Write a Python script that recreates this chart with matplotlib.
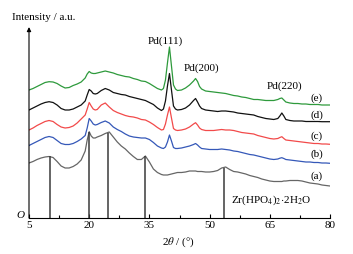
import matplotlib
matplotlib.use('Agg')
import matplotlib.pyplot as plt

plt.rcParams['font.family'] = ['Liberation Serif', 'DejaVu Serif']
plt.rcParams['mathtext.fontset'] = 'stix'

# 2theta grid (deg)
two_theta = [5, 6, 7, 8, 9, 10, 11, 12, 13, 14, 15, 16, 17, 18, 19,
             19.5, 20, 20.5, 21, 21.5, 22,
             23, 24, 25, 26, 27, 28, 29, 30, 31, 32, 33, 34, 35, 36, 37, 38,
             38.5, 39, 39.5, 40, 40.5, 41, 41.5, 42,
             43, 44, 45, 46,
             46.5, 47, 47.5,
             48, 49, 50, 51, 52, 53, 54, 55, 56, 57, 58, 59, 60, 61, 62, 63, 64, 65, 66, 67,
             67.5, 68, 68.5,
             69, 70, 71, 72, 73, 74, 75, 76, 77, 78, 79, 80]

# intensities (offset, a.u.)
curve_a = [55, 56.5, 58.5, 60, 61, 61.5, 60.5, 56.5, 52, 50, 50, 51.5, 54, 58, 67,
           78, 86.3, 82, 80, 80, 81,
           82.5, 84.5, 86, 81, 76, 72, 69, 65, 61.5, 58.5, 58.5, 62, 56, 49, 45.5, 43.5,
           43, 43, 43, 43.5, 44, 44.5, 45, 45.5,
           45.5, 46, 47, 47,
           47, 46.5, 46.5,
           46.5, 46, 46, 46.5, 47.5, 50, 51, 48.5, 46.5, 46, 45, 44, 42.5, 41.5, 40.5, 39, 38, 37, 36.5, 36.5,
           36.5, 36.5, 37,
           37, 37.5, 37.5, 37.5, 37, 36, 35, 34.5, 34, 33, 32.5, 32]

curve_b = [72.5, 74.5, 76.5, 78.5, 80.5, 81.5, 80.5, 77.5, 74.5, 73.5, 73.5, 74.5, 76.5, 79, 82.5,
           90, 99.5, 97, 94, 93, 93.5,
           95.5, 97, 95, 91, 88.5, 86.5, 84, 82, 81, 80.5, 80, 80, 78.5, 75.5, 72, 70,
           69.5, 71, 76, 83, 77, 70.5, 69.5, 69.5,
           70, 71, 72, 73.5,
           74.5, 73, 71,
           69.5, 69, 68.5, 68.5, 68.5, 69, 68.5, 68, 67, 66.5, 65.5, 64.5, 63.5, 63, 62, 61, 60, 59, 58.5, 59,
           59.8, 60.3, 59.5,
           58.5, 58, 57.5, 57, 56.5, 56, 56, 55.5, 55.5, 55, 55, 54.7]

curve_c = [88, 90, 92.5, 94.5, 96.5, 97.5, 96.5, 93.5, 91, 90, 90.5, 92, 95, 99, 103,
           109, 115.5, 112, 109, 108, 108.5,
           113, 115, 111, 107.5, 105.5, 104, 102.5, 101.5, 101, 100, 98.5, 98, 96, 93.5, 90.5, 88,
           88.5, 94, 103, 111, 100, 89.5, 88, 87.5,
           88, 89, 91, 94,
           95.3, 93, 90,
           88.5, 87.5, 87.5, 87.5, 88, 88.5, 88, 88, 87.5, 86.5, 85.5, 85, 84.5, 84, 82.5, 81.5, 80.5, 79.5, 79, 79.5,
           80.5, 81.3, 79.5,
           78, 77.5, 77, 76.5, 76, 75.5, 75, 74.5, 74.5, 74, 74, 73.7]

curve_d = [108, 110, 112, 114, 115.5, 116.3, 115.5, 113, 109.5, 108, 108, 109, 111, 113, 117,
           123, 128.5, 127, 124.5, 124, 124.5,
           127.5, 129.5, 128, 125.5, 124.5, 123.5, 123, 121.5, 120.5, 119.5, 118.5, 117.5, 115.5, 113.5, 110, 107.5,
           109, 117, 132, 144.5, 128, 112, 109, 108,
           108.5, 110, 113, 117.5,
           119.5, 116, 112,
           109.5, 108, 107.5, 107, 106.5, 107, 107, 106.5, 106, 105, 104.5, 104, 103.5, 103, 101.5, 100.5, 99.5, 99, 98.5, 99.5,
           102, 105, 102,
           98.5, 97.5, 97, 97, 97, 96.5, 96.5, 96.5, 96.5, 96.3, 96.3, 96.3]

curve_e = [128, 129.5, 131.5, 133.5, 135.5, 136.3, 136, 134.5, 132, 130, 130.5, 132.5, 134, 136, 140,
           144, 146.5, 145, 144.5, 144.5, 145,
           146, 147, 146, 145, 143.5, 142.5, 141.5, 141, 139.5, 138.5, 137, 136.5, 134.5, 132, 129.5, 128,
           129.5, 138, 155, 171, 152, 133, 129, 127.5,
           128, 130, 133, 137,
           139.5, 136.5, 131.5,
           129, 127, 126.5, 126, 125.5, 125, 124.5, 123.5, 122.5, 122, 121, 120.5, 119.5, 118.5, 118.5, 118, 117.5, 117.5, 117.5, 118.5,
           119.5, 120, 118,
           116, 115, 114.5, 114.5, 114, 114, 113.5, 113.5, 113.5, 113, 113, 113]

curve_labels = ['(a)', '(b)', '(c)', '(d)', '(e)']
curve_colors = ['#666666', '#3558b8', '#f24a4a', '#111111', '#2e9a3c']
label_y = [42, 64, 82, 103, 120]

# Zr(HPO4)2.2H2O reference sticks
stick_pos = [10.2, 20.0, 24.8, 34.0, 53.7]
stick_height = [62, 86.3, 85.3, 62, 50.3]

pd_labels = ['Pd(111)', 'Pd(200)', 'Pd(220)']
pd_label_x = [38.9, 48.0, 68.6]
pd_label_y = [177, 150, 132]

fig = plt.figure(figsize=(3.53, 2.54), dpi=100)
ax = fig.add_axes([29 / 353, 36 / 254, 301 / 353, 190 / 254])

for ys, c in zip([curve_a, curve_b, curve_c, curve_d, curve_e], curve_colors):
    ax.plot(two_theta, ys, color=c, lw=0.9)

ax.vlines(stick_pos, 0, stick_height, color='#3a3a3a', lw=1.1)

for lab, ly in zip(curve_labels, label_y):
    ax.text(76.7, ly, lab, fontsize=8, ha='center', va='center')

for lab, lx, ly in zip(pd_labels, pd_label_x, pd_label_y):
    ax.text(lx, ly, lab, fontsize=8, ha='center', va='center')

ax.text(65.4, 18, r'Zr(HPO$_4$)$_2$$\cdot$2H$_2$O', fontsize=8, ha='center', va='center')

ax.set_xlim(5, 80)
ax.set_ylim(0, 190)
ax.set_xticks([5, 20, 35, 50, 65, 80])
ax.set_xticks([12.5, 27.5, 42.5, 57.5, 72.5], minor=True)
ax.set_yticks([])
ax.tick_params(axis='x', which='major', direction='in', length=3, width=0.8, labelsize=8, pad=2.5)
ax.tick_params(axis='x', which='minor', direction='in', length=2, width=0.8)
for s in ['top', 'right', 'left']:
    ax.spines[s].set_visible(False)
ax.spines['bottom'].set_linewidth(0.8)

# y axis with arrow
ax.annotate('', xy=(0, 1.005), xytext=(0, 0), xycoords='axes fraction',
            arrowprops=dict(arrowstyle='-|>', lw=0.8, color='black', mutation_scale=6,
                            shrinkA=0, shrinkB=0))

fig.text(11.7 / 353, 1 - 17.3 / 254, 'Intensity / a.u.', fontsize=8, ha='left', va='center')
fig.text(20.7 / 353, 1 - 215 / 254, 'O', fontsize=8, style='italic', ha='center', va='center')
fig.text(178 / 353, 1 - 242.7 / 254, r'2$\it{\theta}$ / (°)', fontsize=8, ha='center', va='center')

fig.savefig('out.png', dpi=100)
